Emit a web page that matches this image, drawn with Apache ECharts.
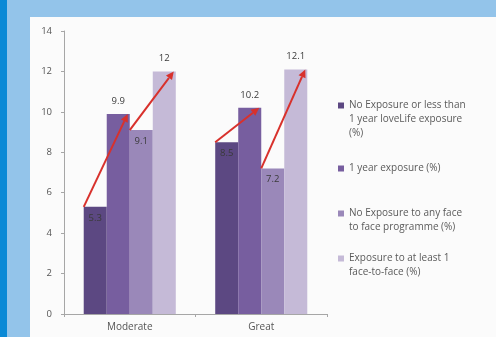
<!DOCTYPE html>
<html>
<head>
<meta charset="utf-8">
<script src="https://cdn.jsdelivr.net/npm/echarts@6/dist/echarts.min.js"></script>
<style>
  html, body { margin: 0; padding: 0; background: #93c4ea; }
  #chart { width: 496px; height: 337px; }
</style>
</head>
<body>
<div id="chart"></div>
<script>
// Exposure groups along the x axis
const categories = ['Moderate', 'Great'];

// Series names and values (%)
const seriesNames = [
  'No Exposure or less than 1 year loveLife exposure (%)',
  '1 year exposure (%)',
  'No Exposure to any face to face programme (%)',
  'Exposure to at least 1 face-to-face (%)'
];
const noExposureLoveLife = [5.3, 8.5];
const oneYearExposure = [9.9, 10.2];
const noFaceToFace = [9.1, 7.2];
const faceToFace = [12, 12.1];

// Wrapped legend text, one array of lines per series
const legendLines = [
  ['No Exposure or less than', '1 year loveLife exposure', '(%)'],
  ['1 year exposure (%)'],
  ['No Exposure to any face', 'to face programme (%)'],
  ['Exposure to at least 1', 'face-to-face (%)']
];

// Y axis ticks
const yTicks = [0, 2, 4, 6, 8, 10, 12, 14];

const seriesValues = [noExposureLoveLife, oneYearExposure, noFaceToFace, faceToFace];
const barColors = ['#5c4882', '#775e9f', '#9a88b9', '#c5bad7'];
const labelPositions = ['insideTop', 'top', 'insideTop', 'top'];

// Arrow pairs: from series a (left edge) to series b (right edge) within each category
const arrowPairs = [[0, 1], [2, 3]];
const arrowData = [];
categories.forEach((c, ci) => {
  arrowPairs.forEach(([a, b]) => {
    arrowData.push([ci, seriesValues[a][ci], seriesValues[b][ci], a, b]);
  });
});

const BAR_CATEGORY_GAP = 0.3;
const N_SERIES = seriesValues.length;
const FONT = '"Open Sans", "Liberation Sans", sans-serif';

const chart = echarts.init(document.getElementById('chart'), null, { renderer: 'canvas' });

// Legend text is centred on its marker, so blank lines are put before the
// wrapped text to keep the marker beside the first line.
const LINE_H = 14;
const legendTops = [70.5, 161.5, 192.5, 237.5];
const legends = seriesNames.map((name, i) => ({
  data: [name],
  orient: 'vertical',
  left: 338,
  top: legendTops[i],
  padding: 0,
  itemWidth: 6,
  itemHeight: 6,
  itemGap: 0,
  selectedMode: false,
  icon: 'rect',
  formatter: () => ' \n'.repeat(legendLines[i].length - 1) + legendLines[i].join('\n'),
  textStyle: {
    fontFamily: FONT,
    fontSize: 10,
    color: '#5a5a5a',
    lineHeight: LINE_H
  }
}));

const barSeries = seriesNames.map((name, i) => ({
  name,
  type: 'bar',
  data: seriesValues[i],
  barGap: '0%',
  barCategoryGap: (BAR_CATEGORY_GAP * 100) + '%',
  itemStyle: { color: barColors[i] },
  label: {
    show: true,
    position: labelPositions[i],
    distance: labelPositions[i] === 'top' ? 8 : 6,
    fontFamily: FONT,
    fontSize: 9.5,
    color: '#3a3a3a',
    formatter: p => String(p.value)
  },
  z: 2
}));

const arrowSeries = {
  type: 'custom',
  name: 'arrows',
  data: arrowData,
  z: 5,
  silent: true,
  clip: false,
  encode: { x: 0, y: 1 },
  renderItem: (params, api) => {
    const ci = api.value(0);
    const v0 = api.value(1);
    const v1 = api.value(2);
    const a = api.value(3);
    const b = api.value(4);
    const band = api.size([1, 0])[0];
    const bw = band * (1 - BAR_CATEGORY_GAP) / N_SERIES;
    const center = api.coord([ci, 0])[0];
    const groupLeft = center - bw * N_SERIES / 2;
    const x0 = groupLeft + a * bw;
    const x1 = groupLeft + (b + 1) * bw - 2;
    const y0 = api.coord([ci, v0])[1];
    const y1 = api.coord([ci, v1])[1];
    const ang = Math.atan2(y1 - y0, x1 - x0);
    const head = 8, half = 3.8;
    const bx = x1 - head * Math.cos(ang);
    const by = y1 - head * Math.sin(ang);
    const px = -Math.sin(ang), py = Math.cos(ang);
    return {
      type: 'group',
      children: [
        {
          type: 'line',
          shape: { x1: x0, y1: y0, x2: bx, y2: by },
          style: { stroke: '#d8312c', lineWidth: 2 }
        },
        {
          type: 'polygon',
          shape: { points: [[x1, y1], [bx + px * half, by + py * half], [bx - px * half, by - py * half]] },
          style: { fill: '#d8312c' }
        }
      ]
    };
  }
};

chart.setOption({
  animation: false,
  backgroundColor: '#93c4ea',
  graphic: [
    { type: 'rect', left: 0, top: 0, shape: { width: 7, height: 337 }, style: { fill: '#0a89d6' }, z: -10 },
    { type: 'rect', left: 30, top: 17, shape: { width: 466, height: 320 }, style: { fill: '#fbfbfb' }, z: -10 }
  ],
  legend: legends,
  grid: { left: 64, right: 169, top: 31, bottom: 23, containLabel: false },
  xAxis: {
    type: 'category',
    data: categories,
    axisLine: { lineStyle: { color: '#a6a6a6' } },
    axisTick: { show: true, length: 3, lineStyle: { color: '#a6a6a6' } },
    axisLabel: { fontFamily: FONT, fontSize: 10, color: '#555', margin: 8 }
  },
  yAxis: {
    type: 'value',
    min: yTicks[0],
    max: yTicks[yTicks.length - 1],
    interval: yTicks[1] - yTicks[0],
    axisLine: { show: true, lineStyle: { color: '#a6a6a6' } },
    axisTick: { show: true, length: 3, lineStyle: { color: '#a6a6a6' } },
    splitLine: { show: false },
    axisLabel: { fontFamily: FONT, fontSize: 9.5, color: '#555', margin: 12 }
  },
  series: [...barSeries, arrowSeries]
});
</script>
</body>
</html>
